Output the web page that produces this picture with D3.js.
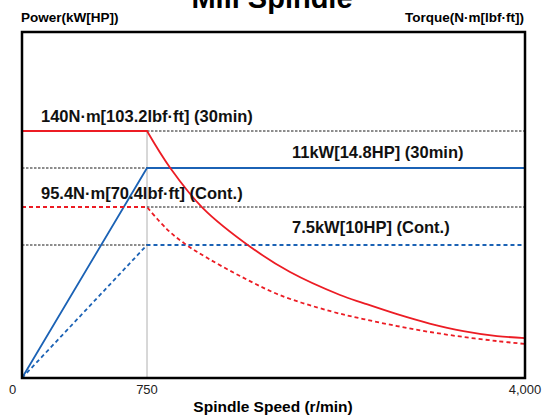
<!DOCTYPE html>
<html><head><meta charset="utf-8">
<script src="https://cdn.jsdelivr.net/npm/d3@7"></script>
<style>body{margin:0;background:#fff}svg{display:block}text{font-family:"Liberation Sans",Arial,sans-serif}</style>
</head><body><svg id="c" width="546" height="417"></svg>
<script>
const speedTicks = [0, 750, 4000];
const speedTickLabels = ["0", "750", "4,000"];
const powerLevels = [7.5, 11];
const torqueLevels = [95.4, 140];

const power30Speed = [0, 750, 4000];
const power30 = [0, 11, 11];
const powerContSpeed = [0, 750, 4000];
const powerCont = [0, 7.5, 7.5];

const torque30Speed = [0, 750, 950, 1230, 1640, 1980, 2410, 2610, 2900, 3180, 3470, 3760, 4000];
const torque30 = [140, 140, 118.3, 94.8, 73.1, 59.1, 46.3, 41.8, 35.6, 30.4, 26.2, 23.4, 22.3];
const torqueContSpeed = [0, 750, 920, 1090, 1270, 1550, 1890, 2320, 2610, 2900, 3180, 3470, 3760, 4000];
const torqueCont = [95.4, 95.4, 83.1, 74.2, 66.9, 56.9, 46.3, 37.4, 32.9, 29.0, 25.7, 22.9, 20.6, 19.0];

const labels = [
  {text: "140N·m[103.2lbf·ft] (30min)", x: 41, y: 122},
  {text: "11kW[14.8HP] (30min)", x: 292, y: 158},
  {text: "95.4N·m[70.4lbf·ft] (Cont.)", x: 41, y: 199},
  {text: "7.5kW[10HP] (Cont.)", x: 292, y: 233}
];

const RED = "#ec1c24", BLUE = "#1b62b5";
const svg = d3.select("#c");
const L = 22, R = 525, T = 32, B = 378;

const x = d3.scaleLinear().domain([0, 750, 4000]).range([L, 147, R]);
const yT = d3.scaleLinear().domain([0, 95.4, 140]).range([B, 207, 131]);
const yP = d3.scaleLinear().domain([0, 7.5, 11]).range([B, 245, 168]);

// title & axis titles
svg.append("text").attr("x", 272).attr("y", 8).attr("text-anchor", "middle")
  .attr("font-size", 29).attr("font-weight", "bold").text("Mill Spindle");
svg.append("text").attr("x", 21).attr("y", 22).attr("font-size", 13.5).attr("font-weight", "bold").text("Power(kW[HP])");
svg.append("text").attr("x", 524).attr("y", 22).attr("text-anchor", "end").attr("font-size", 13.5).attr("font-weight", "bold").text("Torque(N·m[lbf·ft])");
svg.append("text").attr("x", 273).attr("y", 412).attr("text-anchor", "middle").attr("font-size", 15.5).attr("font-weight", "bold").text("Spindle Speed (r/min)");

// tick labels
const tickDx = [-9.5, 0, 0];
svg.selectAll(".tl").data(speedTicks).join("text").attr("class", "tl")
  .attr("x", (d, i) => x(d) + tickDx[i]).attr("y", 394).attr("text-anchor", "middle")
  .attr("font-size", 13).attr("fill", "#222").text((d, i) => speedTickLabels[i]);

// vertical guide at 750
svg.append("line").attr("x1", x(750)).attr("x2", x(750)).attr("y1", yT(140)).attr("y2", B)
  .attr("stroke", "#b0b0b0").attr("stroke-width", 1);

// black dotted reference lines
const dot = {stroke: "#000", "stroke-width": 0.9, "stroke-dasharray": "2.5,1.5"};
function hline(x1, x2, y, style) {
  const l = svg.append("line").attr("x1", x1).attr("x2", x2).attr("y1", y).attr("y2", y);
  for (const k in style) l.attr(k, style[k]);
}
torqueLevels.forEach(v => hline(x(750), R, yT(v), dot));
powerLevels.forEach(v => hline(L, x(750), yP(v), dot));

// curves
function path(pts, color, dashed, curve) {
  svg.append("path").attr("d", d3.line().curve(curve)(pts))
    .attr("fill", "none").attr("stroke", color).attr("stroke-width", 1.8)
    .attr("stroke-dasharray", dashed ? "4,3" : null);
}
function draw(xs, ys, yScale, color, dashed, smooth) {
  const pts = xs.map((s, i) => [x(s), yScale(ys[i])]);
  if (!smooth) { path(pts, color, dashed, d3.curveLinear); return; }
  const k = xs.indexOf(750);
  const flatAndCurve = pts.slice(0, k + 1);
  const curved = pts.slice(k);
  const d = d3.line()(flatAndCurve) + d3.line().curve(d3.curveCatmullRom.alpha(0.5))(curved).replace(/^M[^C]*/, "");
  svg.append("path").attr("d", d)
    .attr("fill", "none").attr("stroke", color).attr("stroke-width", 1.8)
    .attr("stroke-dasharray", dashed ? "4,3" : null);
}
draw(power30Speed, power30, yP, BLUE, false, false);
draw(powerContSpeed, powerCont, yP, BLUE, true, false);
draw(torque30Speed, torque30, yT, RED, false, true);
draw(torqueContSpeed, torqueCont, yT, RED, true, true);

// labels
svg.selectAll(".lab").data(labels).join("text").attr("class", "lab")
  .attr("x", d => d.x).attr("y", d => d.y).attr("font-size", 16.5).attr("font-weight", "bold")
  .attr("fill", "#111").text(d => d.text);

// frame
svg.append("rect").attr("x", L).attr("y", T).attr("width", R - L).attr("height", B - T)
  .attr("fill", "none").attr("stroke", "#000").attr("stroke-width", 2.5);
</script></body></html>
